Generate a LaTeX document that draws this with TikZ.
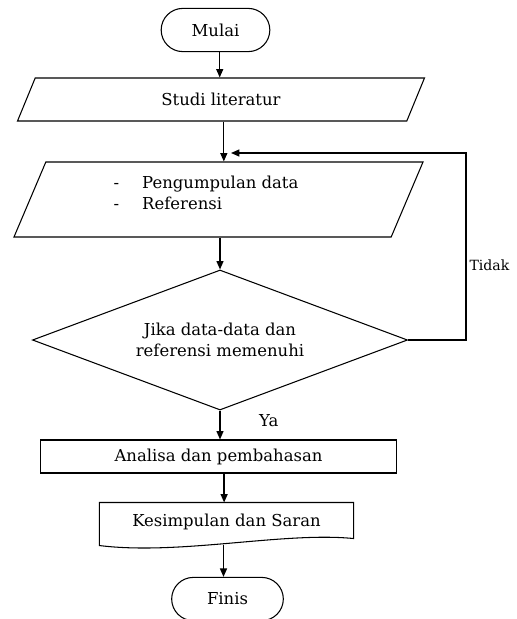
\documentclass[tikz,border=0pt]{standalone}
\usepackage{fontspec}
\setmainfont{DejaVu Serif}
\usetikzlibrary{shapes.geometric,shapes.misc,arrows.meta,calc}
\newcommand{\butir}[2]{\begin{tabular}{@{}l@{\hspace{1.4em}}l@{}}-&#1\\-&#2\end{tabular}}

\tikzset{
  teks/.style={font=\fontsize{11.7}{15}\selectfont},
  terminal/.style={teks,draw,rounded rectangle,minimum width=2.95cm,minimum height=1.08cm},
  jajar/.style={teks,draw,trapezium,trapezium stretches=true,inner sep=0pt},
  proses/.style={teks,draw,rectangle,inner sep=0pt},
  keputusan/.style={teks,draw,diamond,aspect=2.68,inner sep=0pt,minimum width=9.375cm,minimum height=3.5cm,align=center},
  panah/.style={-{Triangle[length=6pt,width=5pt]},line width=0.9pt}
}

\begin{document}
\begin{tikzpicture}[x=0.025cm,y=-0.025cm,line width=0.75pt]
  \useasboundingbox (0,0) rectangle (516,619);
  \node[terminal] (mulai) at (215.5,30) {Mulai};
  \node[jajar,trapezium left angle=66,trapezium right angle=114,minimum width=10.25cm,minimum height=1.075cm] (studi) at (221,99.5) {Studi literatur};
  \node[jajar,trapezium left angle=68,trapezium right angle=112,minimum width=10.225cm,minimum height=1.875cm] (kumpul) at (218.5,199.5) {\phantom{\butir{Pengumpulan data}{Referensi}}};
  \node[teks,inner sep=0pt] (isi) at (206,195) {\butir{Pengumpulan data}{Referensi}};
  \node[keputusan] (cek) at (220,340) {Jika data-data dan\\referensi memenuhi};
  \node[proses,minimum width=8.875cm,minimum height=0.825cm] (analisa) at (218.5,456.5) {Analisa dan pembahasan};
  \node[proses,draw=none,minimum width=6.325cm,minimum height=0.95cm] (simpul) at (226.5,522) {Kesimpulan dan Saran};
  \draw (simpul.north west) -- (simpul.north east) -- ($(simpul.south east)+(0,-3)$)
     .. controls ($(simpul.south east)+(-70,-10)$) and ($(simpul.south west)+(80,14)$) .. ($(simpul.south west)+(0,4)$) -- cycle;
  \node[terminal,minimum width=3.025cm] (finis) at (227.5,599) {Finis};
  \coordinate (masuk) at (231,153);
  \coordinate (kaki) at ($(simpul.south)+(-3,3)$);

  \draw[panah] ([xshift=3pt]mulai.south) -- ([xshift=3pt]mulai.south |- studi.north);
  \draw[panah] ([xshift=2pt]studi.south) -- ([xshift=2pt]studi.south |- kumpul.north);
  \draw[panah] (cek.east) -- ++(58,0) |- (masuk) node[pos=0.2,right,inner sep=2pt,font=\fontsize{10}{12}\selectfont]{Tidak};
  \draw[panah] (kumpul.south -| cek.north) -- (cek.north);
  \draw[panah] (cek.south) -- (cek.south |- analisa.north) node[pos=0.35,right=24pt,teks]{Ya};
  \draw[panah] ([xshift=4pt]analisa.south) -- ([xshift=4pt]analisa.south |- simpul.north);
  \draw[panah] (kaki) -- (kaki |- finis.north);
\end{tikzpicture}
\end{document}
